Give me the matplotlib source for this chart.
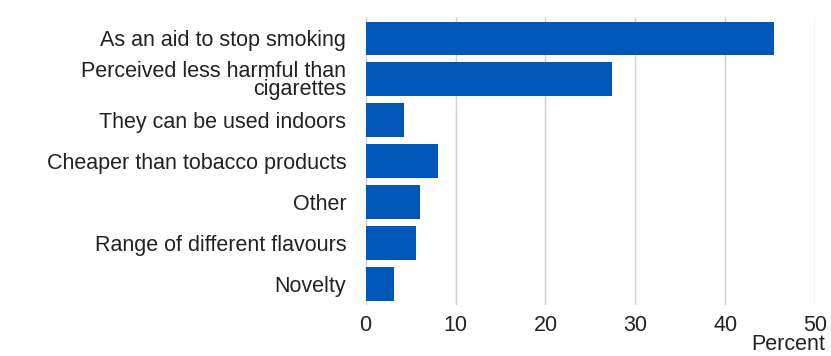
import numpy as np
import matplotlib.pyplot as plt

plt.rcParams['font.family'] = ['Liberation Sans', 'DejaVu Sans']

reasons = [
    'As an aid to stop smoking',
    'Perceived less harmful than\ncigarettes',
    'They can be used indoors',
    'Cheaper than tobacco products',
    'Other',
    'Range of different flavours',
    'Novelty',
]
percent = [45.4, 27.4, 4.3, 8.1, 6.0, 5.6, 3.1]
x_ticks = [0, 10, 20, 30, 40, 50]

fig = plt.figure(figsize=(8.31, 3.56), dpi=100)
ax = fig.add_axes([0.44, 0.143, 0.541, 0.809])

y = np.arange(len(reasons))
ax.barh(y, percent, height=0.82, color='#0057b8', zorder=3)

ax.set_xlim(0, 50)
ax.set_ylim(len(reasons) - 0.48, -0.52)
ax.set_xticks(x_ticks)
ax.set_yticks(y)
ax.set_yticklabels(reasons, fontsize=15.5, color='#222222', linespacing=0.85)
ax.tick_params(axis='y', length=0, pad=14)
ax.tick_params(axis='x', length=0, pad=7, labelsize=15.5, labelcolor='#222222')

ax.xaxis.grid(True, color='#d0d0d0', linewidth=1)
ax.set_axisbelow(True)
for s in ax.spines.values():
    s.set_visible(False)

fig.text(0.993, 0.018, 'Percent', ha='right', va='baseline', fontsize=15.5, color='#222222')

fig.savefig('out.png', dpi=100)
